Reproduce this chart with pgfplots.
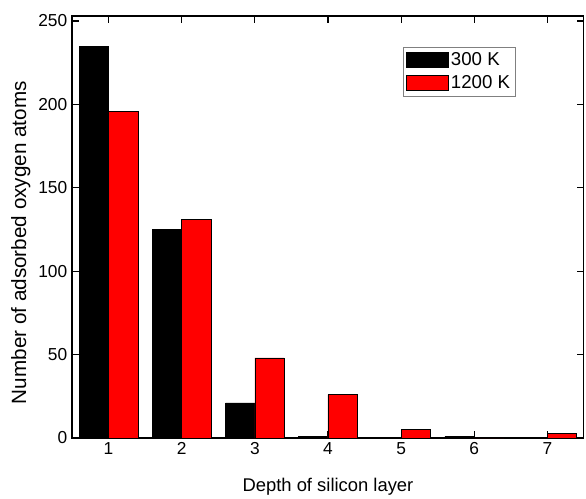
\documentclass[border=0pt]{standalone}
\usepackage{pgfplots}
\pgfplotsset{compat=1.18}
\usepackage{fontspec}
\setmainfont{Liberation Sans}
\begin{document}
\begin{tikzpicture}
\begin{axis}[
  scale only axis,
  width=384pt, height=316.5pt,
  xmin=0.5, xmax=7.5, ymin=0, ymax=253,
  ybar, bar width=0.4,
  xtick={1,...,7},
  ytick={0,50,100,150,200,250},
  tick align=inside,
  major tick length=5pt,
  /pgf/number format/assume math mode=true,
  tick label style={font=\fontsize{13}{15}\selectfont},
  xlabel={Depth of silicon layer},
  ylabel={Number of adsorbed oxygen atoms},
  xlabel style={at={(axis description cs:0.5,-0.116)}, anchor=center, font=\fontsize{13.8}{15}\selectfont},
  ylabel style={at={(axis description cs:-0.100,0.463)}, anchor=center, font=\fontsize{15.5}{17}\selectfont},
  axis line style={line width=0.8pt},
  every tick/.style={black, line width=0.8pt},
  legend style={at={(rel axis cs:0.646,0.927)}, anchor=north west, draw=gray, line width=0.6pt, font=\fontsize{14}{15}\selectfont, inner sep=2pt, row sep=2pt},
  legend image code/.code={\draw[#1, draw=black] (0cm,-0.2cm) rectangle (1.1cm,0.2cm);},
  legend cell align=left,
]
\addplot[fill=black, draw=black, bar shift=-0.2] coordinates {(1,235) (2,125) (3,21) (4,1) (5,0) (6,1) (7,0)};
\addplot[fill=red, draw=black, bar shift=0.2] coordinates {(1,196) (2,131) (3,48) (4,26) (5,5) (6,0) (7,3)};
\legend{300 K, 1200 K}
\coordinate (bl) at (axis description cs:-0.1406,-0.1422);
\coordinate (tr) at (axis description cs:1.004,1.038);
\end{axis}
\pgfresetboundingbox
\useasboundingbox (bl) rectangle (tr);
\end{tikzpicture}
\end{document}
